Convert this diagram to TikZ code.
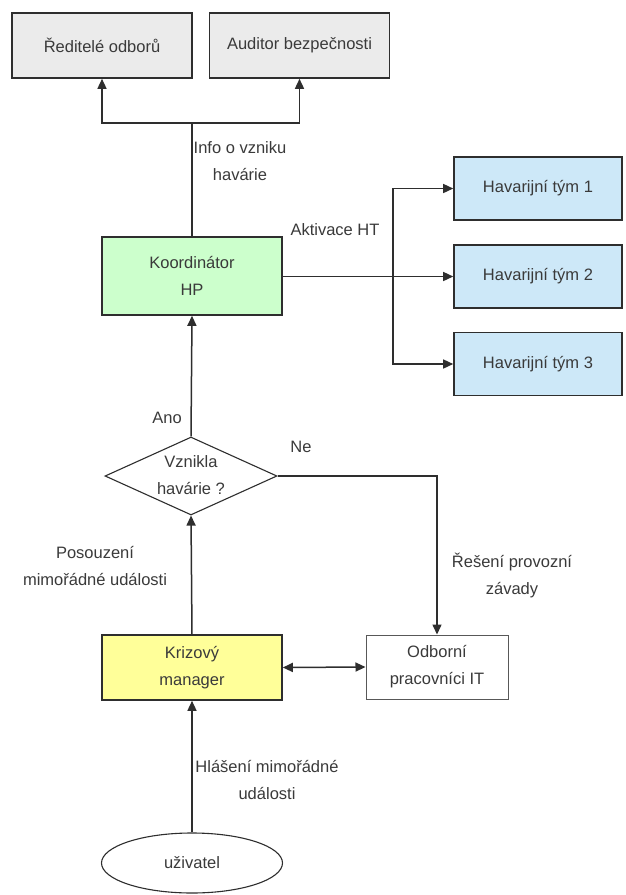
\documentclass[tikz,border=0pt]{standalone}
\usepackage{fontspec}
\setmainfont{Liberation Sans}
\usetikzlibrary{arrows.meta,shapes.geometric}
\definecolor{boxgray}{HTML}{EBEBEB}
\definecolor{boxgreen}{HTML}{CCFFCC}
\definecolor{boxblue}{HTML}{CDE8F8}
\definecolor{boxyellow}{HTML}{FFFF99}
\definecolor{linec}{HTML}{2E2E2E}
\definecolor{textc}{HTML}{3A3A3A}
\begin{document}
\begin{tikzpicture}[x=1pt,y=-1pt,
  every node/.style={font=\fontsize{16.5}{27}\selectfont, text=textc, align=center},
  box/.style={draw=linec, line width=1.6pt, rectangle, inner sep=0pt},
  graybox/.style={box, fill=boxgray, minimum width=180pt, minimum height=65pt},
  teambox/.style={box, fill=boxblue, minimum width=168pt, minimum height=63pt},
  conn/.style={draw=linec, line width=1.5pt, -{Triangle[length=10pt,width=9pt]}},
  conn2/.style={draw=linec, line width=1.5pt, {Triangle[length=10pt,width=9pt]}-{Triangle[length=10pt,width=9pt]}},
  plain/.style={draw=linec, line width=1.5pt},
  lbl/.style={inner sep=1pt}
]
\fill[white] (0,0) rectangle (625,895);
\useasboundingbox (0,0) rectangle (625,895);

\node[graybox] (red) at (102,45.5) {Ředitelé odborů};
\node[graybox] (aud) at (299.5,45.5) {Auditor bezpečnosti};
\node[box, fill=boxgreen, minimum width=180pt, minimum height=78pt] (koord) at (192,276) {Koordinátor\\HP};
\node[teambox] (t1) at (538,188.5) {Havarijní tým 1};
\node[teambox] (t2) at (538,276.5) {Havarijní tým 2};
\node[teambox] (t3) at (538,364) {Havarijní tým 3};
\node[diamond, draw=linec, line width=1.1pt, fill=white, minimum width=172pt, minimum height=78pt, inner sep=0pt] (dec) at (191,476) {};
\node[lbl] (dectext) at (191,475) {Vznikla\\havárie ?};
\node[box, fill=boxyellow, minimum width=180pt, minimum height=65pt] (kriz) at (192,667.5) {Krizový\\manager};
\node[rectangle, draw=linec!80, line width=1pt, fill=white, minimum width=142pt, minimum height=64pt, inner sep=0pt] (odb) at (437,667) {Odborní\\pracovníci IT};
\node[ellipse, draw=linec, line width=1.1pt, fill=white, minimum width=181pt, minimum height=60pt, inner sep=0pt] (usr) at (192,863) {uživatel};

% labels
\node[lbl] (linfo) at (240,161) {Info o vzniku\\havárie};
\node[lbl] (lakt) at (335,230) {Aktivace HT};
\node[lbl] (lano) at (167,418) {Ano};
\node[lbl] (lne) at (301,447) {Ne};
\node[lbl] (lpos) at (95,566) {Posouzení\\mimořádné události};
\node[lbl] (lres) at (512,575) {Řešení provozní\\závady};
\node[lbl] (lhla) at (267,780) {Hlášení mimořádné\\události};

% connectors
\coordinate (top) at (192,123);
\draw[plain] (koord.north) -- (top);
\draw[conn] (top) -| (red.south);
\draw[conn] (top) -| (aud.south);

\coordinate (br) at (393,276.5);
\draw[conn] (koord.east |- t2.west) -- (t2.west);
\draw[conn] (br) |- (t1.west);
\draw[conn] (br) |- (t3.west);

\draw[conn] (dec.north) -- (koord.south);
\draw[conn] (dec.east) -| (odb.north);
\draw[conn] (kriz.north) -- (dec.south);
\draw[conn2] (kriz.east) -- (odb.west);
\draw[conn] (usr.north) -- (kriz.south);
\end{tikzpicture}
\end{document}
